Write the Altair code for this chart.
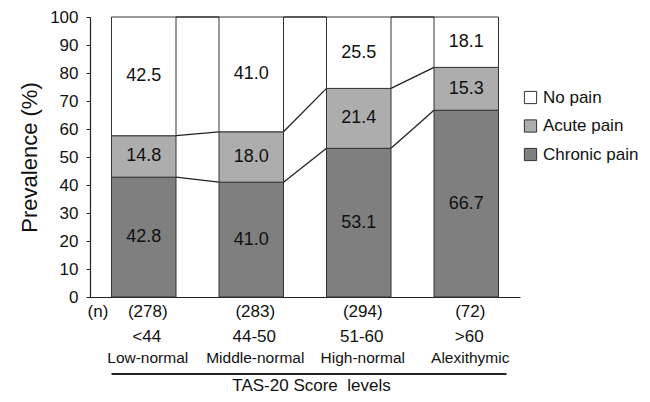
import altair as alt
import pandas as pd

# ---- data ----
categories = ["Low-normal", "Middle-normal", "High-normal", "Alexithymic"]
score_ranges = ["<44", "44-50", "51-60", ">60"]
n_labels = ["(278)", "(283)", "(294)", "(72)"]
series = ["Chronic pain", "Acute pain", "No pain"]          # bottom -> top
chronic = [42.8, 41.0, 53.1, 66.7]
acute = [14.8, 18.0, 21.4, 15.3]
no_pain = [42.5, 41.0, 25.5, 18.1]
y_ticks = list(range(0, 101, 10))
legend_order = ["No pain", "Acute pain", "Chronic pain"]
fill_colors = ["#ffffff", "#adadad", "#7f7f7f"]

FONT = "Liberation Sans"
HALF = 0.3  # half bar width in category units

values = {"Chronic pain": chronic, "Acute pain": acute, "No pain": no_pain}

# stacked segments (100% stacked: the top segment ends at 100)
seg_rows = []
tops = {s: [] for s in series}
for i, cat in enumerate(categories):
    base = 0.0
    for s in series:
        v = values[s][i]
        top = min(base + v, 100.0)
        seg_rows.append({"idx": i, "cat": cat, "series": s, "value": v,
                         "y0": base, "y1": top, "mid": (base + top) / 2,
                         "xa": i - HALF, "xb": i + HALF})
        base = top
        tops[s].append(top)
seg = pd.DataFrame(seg_rows)

# series (connector) lines between neighbouring bars
line_rows = []
for s in series:
    t = tops[s]
    for i in range(len(categories) - 1):
        line_rows.append({"series": s, "xa": i + HALF, "xb": i + 1 - HALF,
                          "ya": t[i], "yb": t[i + 1]})
lines = pd.DataFrame(line_rows)

cats = pd.DataFrame({"idx": list(range(len(categories))), "cat": categories,
                     "rng": score_ranges, "n": n_labels})
under = pd.DataFrame({"xa": [cats["idx"].min() - HALF], "xb": [cats["idx"].max() + HALF]})

Y_TITLE = "Prevalence (%)"
yscale = alt.Scale(domain=[0, 100], nice=False, zero=True)
xscale = alt.Scale(domain=[-0.5, len(categories) - 0.5], nice=False, zero=False)

x_axis = alt.Axis(labels=False, ticks=False, grid=False, domainColor="#222",
                  domainWidth=1.2, title="TAS-20 Score\u00a0 levels",
                  titleFont=FONT, titleFontSize=17, titleFontWeight="normal",
                  titleColor="#111", titlePadding=80, titleX=221)
y_axis = alt.Axis(values=y_ticks, grid=False, tickSize=4, labelPadding=8,
                  labelFont=FONT, labelFontSize=17, labelColor="#111",
                  domainColor="#222", tickColor="#222", domainWidth=1.2,
                  title=Y_TITLE, titleFont=FONT, titleFontSize=22,
                  titleFontWeight="normal", titleColor="#111", titlePadding=8)

bars = alt.Chart(seg).mark_bar(stroke="#333", strokeWidth=1).encode(
    x=alt.X("xa:Q", scale=xscale, axis=x_axis),
    x2="xb:Q",
    y=alt.Y("y0:Q", scale=yscale, axis=y_axis),
    y2="y1:Q",
    fill=alt.Fill("series:N",
                  scale=alt.Scale(domain=legend_order, range=fill_colors),
                  legend=alt.Legend(title=None, orient="none", legendX=432, legendY=72,
                                    symbolType="square", symbolSize=150,
                                    symbolStrokeColor="#333", symbolStrokeWidth=1,
                                    labelFont=FONT, labelFontSize=17, labelColor="#111",
                                    labelOffset=4, rowPadding=10.5, padding=0)),
)

connectors = alt.Chart(lines).mark_rule(color="#222", strokeWidth=1.3).encode(
    x=alt.X("xa:Q", scale=xscale, axis=x_axis),
    x2="xb:Q",
    y=alt.Y("ya:Q", scale=yscale, axis=y_axis),
    y2="yb:Q",
)

seg_labels = alt.Chart(seg).mark_text(font=FONT, fontSize=18, color="#111",
                                      baseline="middle").encode(
    x=alt.X("idx:Q", scale=xscale, axis=x_axis),
    y=alt.Y("mid:Q", scale=yscale, axis=y_axis),
    text=alt.Text("value:Q", format=".1f"),
)

row_n = alt.Chart(cats).mark_text(font=FONT, fontSize=17, color="#111",
                                  baseline="middle", dx=4).encode(
    x=alt.X("idx:Q", scale=xscale, axis=x_axis), y=alt.value(295), text="n:N")
row_rng = alt.Chart(cats).mark_text(font=FONT, fontSize=17, color="#111",
                                    baseline="middle", dx=3).encode(
    x=alt.X("idx:Q", scale=xscale, axis=x_axis), y=alt.value(320), text="rng:N")
row_cat = alt.Chart(cats).mark_text(font=FONT, fontSize=15.5, color="#111",
                                    baseline="middle", dx=4).encode(
    x=alt.X("idx:Q", scale=xscale, axis=x_axis), y=alt.value(341), text="cat:N")
n_head = alt.Chart(pd.DataFrame({"t": ["(n)"]})).mark_text(
    font=FONT, fontSize=17, color="#111", baseline="middle").encode(
    x=alt.value(8), y=alt.value(295), text="t:N")

underline = alt.Chart(under).mark_rule(color="#222", strokeWidth=2, x2Offset=8).encode(
    x=alt.X("xa:Q", scale=xscale, axis=x_axis),
    x2=alt.X2("xb:Q"),
    y=alt.value(357),
)

chart = alt.layer(bars, connectors, seg_labels, row_n, row_rng, row_cat, n_head,
                  underline).properties(
    width=430, height=280,
    autosize=alt.AutoSizeParams(type="none"),
    padding={"left": 82, "top": 9, "right": 122, "bottom": 97},
).configure_view(strokeWidth=0)

chart.save("out.html", embed_options={"renderer": "svg", "actions": False})
